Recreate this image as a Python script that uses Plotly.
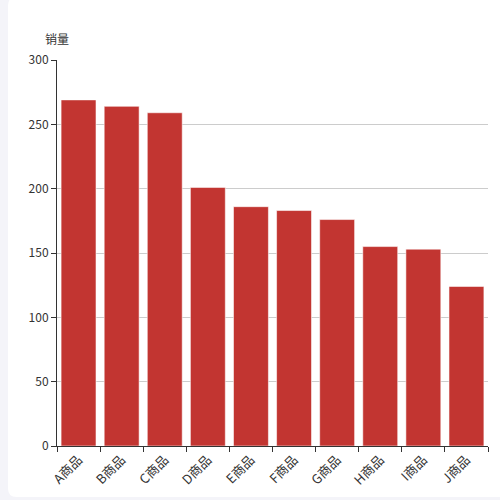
import plotly.graph_objects as go

# data
goods = ['A商品', 'B商品', 'C商品', 'D商品', 'E商品', 'F商品', 'G商品', 'H商品', 'I商品', 'J商品']
sales = [269, 264, 259, 201, 186, 183, 176, 155, 153, 124]

bar_color = '#c23531'
txt = '#333333'
font_family = 'Noto Sans CJK SC, Noto Sans, sans-serif'

# plot area in pixels: left 57, right 488, top 60, bottom 446
L, R, T, B = 57, 488, 60, 446
W, H = R - L, B - T


def px_x(p):
    return (p - L) / W


def px_y(p):
    return (B - p) / H


fig = go.Figure()
fig.add_trace(go.Bar(x=goods, y=sales, marker=dict(color=bar_color,
                     line=dict(color='rgba(255,255,255,0.55)', width=1)),
                     name='销量', hoverinfo='x+y'))

# white card on a light grey page
x0, x1, y0, y1, r = px_x(8), px_x(503), px_y(-3), px_y(497), 0.02
card = (f'M {x0 + r},{y0} L {x1},{y0} L {x1},{y1} L {x0 + r},{y1} '
        f'Q {x0},{y1} {x0},{y1 + r * W / H} L {x0},{y0 - r * W / H} Q {x0},{y0} {x0 + r},{y0} Z')
fig.add_shape(type='path', path=card, xref='paper', yref='paper',
              fillcolor='white', line=dict(width=0), layer='below')

fig.add_annotation(text='销量', x=0, y=px_y(38), xref='paper', yref='paper',
                   showarrow=False, xanchor='center', yanchor='middle',
                   font=dict(size=12, color=txt, family=font_family))

fig.update_layout(
    width=500, height=500,
    margin=dict(l=L, r=500 - R, t=T, b=500 - B, pad=0),
    paper_bgcolor='#f4f4f9', plot_bgcolor='white',
    bargap=0.19, showlegend=False,
    font=dict(family=font_family, size=12, color=txt),
    xaxis=dict(type='category', tickangle=-45, ticks='outside', ticklen=5,
               tickcolor=txt, tickson='boundaries', showline=True, linecolor=txt,
               linewidth=1, showgrid=False, tickfont=dict(size=13, color=txt)),
    yaxis=dict(range=[0, 300], dtick=50, ticks='outside', ticklen=5, tickcolor=txt,
               showline=True, linecolor=txt, linewidth=1, showgrid=True,
               gridcolor='#cccccc', zeroline=False, tickfont=dict(size=12, color=txt)),
)

fig.write_html('out.html', config={'displayModeBar': False},
               post_script="document.body.style.margin='0';document.body.style.overflow='hidden';")
